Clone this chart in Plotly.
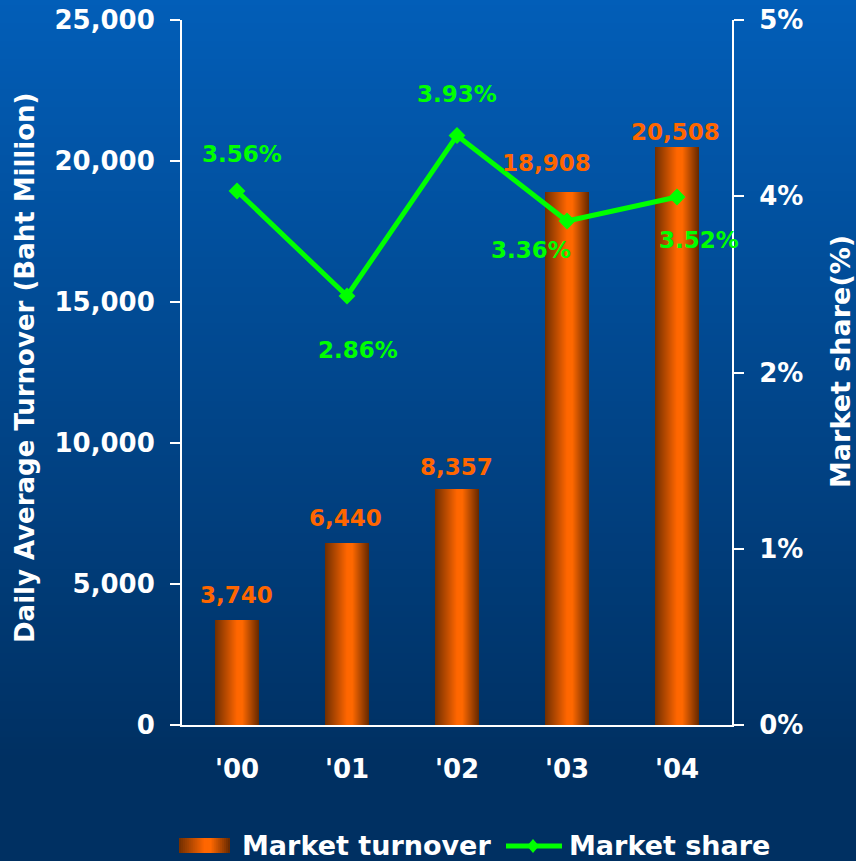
import plotly.graph_objects as go

# ---- data -------------------------------------------------------------
years = ["'00", "'01", "'02", "'03", "'04"]
turnover = [3740, 6440, 8357, 18908, 20508]          # Baht million per day
share = [3.56, 2.86, 3.93, 3.36, 3.52]               # market share, %

turnover_ticks = [0, 5000, 10000, 15000, 20000, 25000]
share_max = 4.7
share_ticks = [share_max * k / 4 for k in range(5)]

# label nudges (px) for the value labels
turnover_shift = [(-1, 25), (-2, 25), (-1, 22), (-21, 29), (-2, 15)]
share_shift = [(5, 37), (11, -54), (0, 42), (-36, -29), (22, -43)]

# ---- geometry / style -------------------------------------------------
W, H = 856, 861
L, R, T, B = 182, 124, 20, 136
PW, PH = W - L - R, H - T - B
FONT = "DejaVu Sans"
WHITE = "#ffffff"
ORANGE = "#ff6600"
GREEN = "#00ff00"
BAR_W = 0.4


def px_to_paper(px, py):
    return (px - L) / PW, (H - B - py) / PH


def lerp(c1, c2, t):
    return tuple(round(a + (b - a) * t) for a, b in zip(c1, c2))


def bar_shade(t):
    stops = [(0.0, (112, 46, 0)), (0.5, (255, 102, 0)),
             (0.62, (255, 104, 0)), (1.0, (100, 40, 0))]
    for (t0, c0), (t1, c1) in zip(stops, stops[1:]):
        if t <= t1:
            return "rgb(%d,%d,%d)" % lerp(c0, c1, (t - t0) / (t1 - t0))
    return "rgb(%d,%d,%d)" % stops[-1][1]


fig = go.Figure()
xs = list(range(len(years)))

# bars: drawn as one-pixel vertical slices to give the cylinder shading
n_slices = 44
sw = BAR_W / n_slices
for i in range(n_slices):
    last = i == n_slices - 1
    fig.add_trace(go.Bar(
        x=xs, y=turnover, offset=-BAR_W / 2 + i * sw,
        width=sw if last else sw * 2,
        marker=dict(color=bar_shade((i + 0.5) / n_slices), line=dict(width=0)),
        showlegend=False, hoverinfo="skip", yaxis="y"))

# market share line
fig.add_trace(go.Scatter(
    x=xs, y=share, yaxis="y2", mode="lines+markers",
    line=dict(color=GREEN, width=5),
    marker=dict(symbol="diamond", size=13, color=GREEN),
    showlegend=False))

annotations = []
for i, v in enumerate(turnover):
    dx, dy = turnover_shift[i]
    annotations.append(dict(
        x=i, y=v, xref="x", yref="y", text=f"{v:,}", showarrow=False,
        xanchor="center", yanchor="middle", xshift=dx, yshift=dy,
        font=dict(family=FONT, size=23, color=ORANGE, weight="bold")))
for i, v in enumerate(share):
    dx, dy = share_shift[i]
    annotations.append(dict(
        x=i, y=v, xref="x", yref="y2", text=f"{v:.2f}%", showarrow=False,
        xanchor="center", yanchor="middle", xshift=dx, yshift=dy,
        font=dict(family=FONT, size=23, color=GREEN, weight="bold")))

# axis titles
ax, ay = px_to_paper(25, 368)
annotations.append(dict(
    x=ax, y=ay, xref="paper", yref="paper", showarrow=False, textangle=-90,
    text="Daily Average Turnover (Baht Million)", xanchor="center", yanchor="middle",
    font=dict(family=FONT, size=26, color=WHITE, weight="bold")))
ax, ay = px_to_paper(840, 362)
annotations.append(dict(
    x=ax, y=ay, xref="paper", yref="paper", showarrow=False, textangle=-90,
    text="Market share(%)", xanchor="center", yanchor="middle",
    font=dict(family=FONT, size=27, color=WHITE, weight="bold")))

shapes = []
# background gradient
top_c, bot_c = (2, 94, 184), (0, 48, 98)
step = 6
for y0 in range(-12, H + 12, step):
    t = min(1.0, max(0.0, (y0 + step / 2) / 760))
    c = "rgb(%d,%d,%d)" % lerp(top_c, bot_c, t)
    x0p, y0p = px_to_paper(-4, y0 - 1)
    x1p, y1p = px_to_paper(W + 4, y0 + step + 1)
    shapes.append(dict(type="rect", xref="paper", yref="paper", layer="below",
                       x0=x0p, x1=x1p, y0=y1p, y1=y0p,
                       fillcolor=c, line=dict(width=0)))

# legend: shaded swatch + line-with-diamond swatch
lx0, lx1, ly0, ly1 = 179, 230, 838, 853
n_leg = 25
for k in range(n_leg):
    a = lx0 + (lx1 - lx0) * k / n_leg
    b = lx0 + (lx1 - lx0) * (k + 1.6 if k < n_leg - 1 else k + 1) / n_leg
    p0 = px_to_paper(a, ly1)
    p1 = px_to_paper(b, ly0)
    shapes.append(dict(type="rect", xref="paper", yref="paper",
                       x0=p0[0], y0=p0[1], x1=p1[0], y1=p1[1],
                       fillcolor=bar_shade((k + 0.5) / n_leg), line=dict(width=0)))
p0 = px_to_paper(506, 846)
p1 = px_to_paper(562, 846)
shapes.append(dict(type="line", xref="paper", yref="paper",
                   x0=p0[0], y0=p0[1], x1=p1[0], y1=p1[1],
                   line=dict(color=GREEN, width=5)))
dc = px_to_paper(533, 846)
dx_, dy_ = 6 / PW, 7 / PH
shapes.append(dict(type="path", xref="paper", yref="paper",
                   path=f"M {dc[0]-dx_} {dc[1]} L {dc[0]} {dc[1]+dy_} "
                        f"L {dc[0]+dx_} {dc[1]} L {dc[0]} {dc[1]-dy_} Z",
                   fillcolor=GREEN, line=dict(width=0)))
for txt, px in [("Market turnover", 240), ("Market share", 567)]:
    p = px_to_paper(px, 846)
    annotations.append(dict(
        x=p[0], y=p[1], xref="paper", yref="paper", text=txt, showarrow=False,
        xanchor="left", yanchor="middle",
        font=dict(family=FONT, size=27, color=WHITE, weight="bold")))

tick_font = dict(family=FONT, size=26, color=WHITE, weight="bold")
xr = [-0.5, len(years) - 0.5]

fig.update_layout(
    width=W, height=H,
    margin=dict(l=L, r=R, t=T, b=B, pad=0, autoexpand=False),
    paper_bgcolor="#003060", plot_bgcolor="rgba(0,0,0,0)",
    barmode="overlay", bargap=0,
    showlegend=False,
    font=dict(family=FONT, color=WHITE),
    xaxis=dict(range=xr, tickvals=xs, ticktext=years, ticks="",
               showline=True, linecolor=WHITE, linewidth=2,
               showgrid=False, zeroline=False, tickfont=tick_font,
               ticklabelstandoff=20, fixedrange=True, automargin=False),
    xaxis2=dict(range=xr, overlaying="x", anchor="y", side="bottom",
                tickvals=[-0.5, 1.5, 3.5], ticks="outside", ticklen=12,
                tickwidth=2, tickcolor=WHITE, showticklabels=False,
                showline=False, showgrid=False, zeroline=False, automargin=False),
    yaxis=dict(range=[0, 25000], tickvals=turnover_ticks,
               ticktext=[f"{v:,}" for v in turnover_ticks],
               ticks="outside", ticklen=10, tickwidth=2, tickcolor=WHITE,
               showline=True, linecolor=WHITE, linewidth=2,
               showgrid=False, zeroline=False, tickfont=tick_font,
               ticklabelstandoff=10, automargin=False),
    yaxis2=dict(range=[0, share_max], overlaying="y", side="right", anchor="x",
                tickvals=share_ticks,
                ticktext=[f"{v:.0f}%" for v in share_ticks],
                ticks="outside", ticklen=10, tickwidth=2, tickcolor=WHITE,
                showline=True, linecolor=WHITE, linewidth=2,
                showgrid=False, zeroline=False, tickfont=tick_font,
                ticklabelstandoff=10, automargin=False),
    yaxis3=dict(range=[0, share_max], overlaying="y", side="right", anchor="x",
                tickvals=share_ticks, ticks="inside", ticklen=10, tickwidth=2,
                tickcolor=WHITE, showticklabels=False, showline=False,
                showgrid=False, zeroline=False, automargin=False),
    annotations=annotations,
    shapes=shapes,
)

fig.write_html("out.html")
